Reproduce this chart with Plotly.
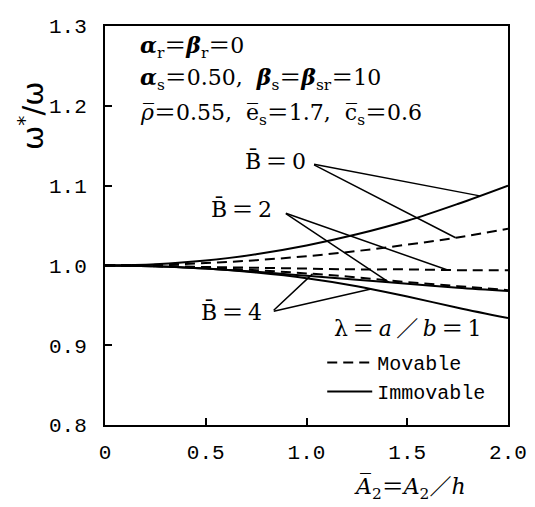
import numpy as np
import plotly.graph_objects as go

# ---- data ----
a2 = [0.0, 0.25, 0.5, 0.75, 1.0, 1.25, 1.5, 1.75, 2.0]
imm_B0 = [1.0, 1.0015, 1.006, 1.014, 1.025, 1.039, 1.056, 1.077, 1.100]
mov_B0 = [1.0, 1.0007, 1.003, 1.0065, 1.0115, 1.018, 1.026, 1.035, 1.046]
mov_B2 = [1.0, 0.9995, 0.998, 0.997, 0.996, 0.995, 0.995, 0.994, 0.994]
imm_B2 = [1.0, 0.999, 0.996, 0.992, 0.987, 0.982, 0.977, 0.972, 0.968]
mov_B4 = [1.0, 0.999, 0.997, 0.994, 0.990, 0.985, 0.979, 0.974, 0.969]
imm_B4 = [1.0, 0.999, 0.996, 0.991, 0.984, 0.974, 0.961, 0.947, 0.934]

x_ticks = [0, 0.5, 1.0, 1.5, 2.0]
x_ticktext = ["0", "0.5", "1.0", "1.5", "2.0"]
y_ticks = [0.8, 0.9, 1.0, 1.1, 1.2, 1.3]
y_ticktext = ["0.8", "0.9", "1.0", "1.1", "1.2", "1.3"]

T = "\u2009"      # thin space
EQ = "\uff1d"     # full-width equals
SL = "\uff0f"     # full-width slash

# label text, label centre (data), leader start (data), [(curve, x on curve)]
labels = [
    ("B\u0304" + T + EQ + T + "0", 0.844, 1.131, (1.03, 1.127), [(imm_B0, 1.86), (mov_B0, 1.74)]),
    ("B\u0304" + T + EQ + T + "2", 0.678, 1.071, (0.89, 1.066), [(mov_B2, 1.70), (imm_B2, 1.41)]),
    ("B\u0304" + T + EQ + T + "4", 0.629, 0.941, (0.83, 0.942), [(mov_B4, 1.03), (imm_B4, 1.32)]),
]

# page geometry (the page body offsets the figure by 8px)
OFF = 8
PL, PR, PT, PB = 105, 515, 16, 425   # plot area in page pixels
W, H = 535 - OFF, 507 - OFF


def px(x):
    return (x - PL) / (PR - PL)


def py(y):
    return (PB - y) / (PB - PT)


fig = go.Figure()
DASH = "10px,6px"
LW = 2
series = [
    (mov_B0, DASH, False, "Movable"),
    (mov_B2, DASH, False, "Movable"),
    (mov_B4, DASH, True, "Movable"),
    (imm_B0, "solid", False, "Immovable"),
    (imm_B2, "solid", False, "Immovable"),
    (imm_B4, "solid", True, "Immovable"),
]
for ys, dash, show, name in series:
    fig.add_trace(go.Scatter(
        x=a2, y=ys, mode="lines", name=name, showlegend=show,
        legendgroup=name,
        line=dict(color="black", width=LW, dash=dash, shape="spline"),
    ))

serif = "DejaVu Serif, Noto Sans CJK JP, serif"
mono = "Liberation Mono, monospace"

annotations = []
for text, tx, ty, (sx, sy), targets in labels:
    annotations.append(dict(x=tx, y=ty, xref="x", yref="y", text=text,
                            xanchor="center", yanchor="middle",
                            showarrow=False, font=dict(family=serif, size=22, color="black")))
    for ys, xt in targets:
        yt = float(np.interp(xt, a2, ys))
        annotations.append(dict(x=xt, y=yt, xref="x", yref="y", ax=sx, ay=sy,
                                axref="x", ayref="y", text="", showarrow=True,
                                arrowhead=0, arrowwidth=1.5, arrowcolor="black",
                                standoff=0, startstandoff=0))

al = "<b><i>\u03b1</i></b>"
be = "<b><i>\u03b2</i></b>"
params = [
    (al + "<sub>r</sub>" + EQ + be + "<sub>r</sub>" + EQ + "0", 38),
    (al + "<sub>s</sub>" + EQ + "0.50,  " + be + "<sub>s</sub>" + EQ + be + "<sub>sr</sub>" + EQ + "10", 70),
    ("<i>\u03c1\u0305</i>" + EQ + "0.55,  e\u0305<sub>s</sub>" + EQ + "1.7,  c\u0305<sub>s</sub>" + EQ + "0.6", 107),
]
for t, ypg in params:
    annotations.append(dict(x=px(139), y=py(ypg), xref="paper", yref="paper", text=t,
                            xanchor="left", yanchor="middle", showarrow=False,
                            font=dict(family=serif, size=22, color="black")))

annotations.append(dict(x=1.505, y=0.921, xref="x", yref="y",
                        text="\u03bb" + T + EQ + T + "<i>a</i>" + T + SL + T + "<i>b</i>" + T + EQ + T + "1",
                        xanchor="center", yanchor="middle", showarrow=False,
                        font=dict(family=serif, size=22, color="black")))

# axis titles
annotations.append(dict(x=px(415), y=py(490), xref="paper", yref="paper",
                        text="<i>A\u0305</i><sub>2</sub>" + EQ + "<i>A</i><sub>2</sub>" + SL + "<i>h</i>",
                        xanchor="center", yanchor="middle",
                        showarrow=False, font=dict(family=serif, size=22, color="black")))
annotations.append(dict(x=px(29), y=py(108), xref="paper", yref="paper",
                        text="\u03c9<sup>*</sup>/\u03c9", textangle=-90,
                        xanchor="center", yanchor="middle",
                        showarrow=False, font=dict(family="DejaVu Sans", size=29, color="black")))

fig.update_layout(
    width=W, height=H,
    margin=dict(l=PL - OFF, r=W - (PR - OFF), t=PT - OFF, b=H - (PB - OFF)),
    paper_bgcolor="white", plot_bgcolor="white",
    annotations=annotations,
    showlegend=True,
    legend=dict(x=px(326), y=py(341), xanchor="left", yanchor="top",
                bgcolor="rgba(0,0,0,0)", font=dict(family=mono, size=20, color="black"),
                tracegroupgap=0, traceorder="grouped", itemwidth=45),
    xaxis=dict(range=[0, 2.0], tickvals=x_ticks, ticktext=x_ticktext,
               ticks="inside", ticklen=7, tickwidth=1.5, tickcolor="black",
               showline=True, linecolor="black", linewidth=2, mirror=True,
               showgrid=False, zeroline=False, ticklabelstandoff=7,
               tickfont=dict(family=mono, size=21, color="black")),
    yaxis=dict(range=[0.8, 1.3], tickvals=y_ticks, ticktext=y_ticktext,
               ticks="inside", ticklen=7, tickwidth=1.5, tickcolor="black",
               showline=True, linecolor="black", linewidth=2, mirror=True,
               showgrid=False, zeroline=False, ticklabelstandoff=12,
               tickfont=dict(family=mono, size=21, color="black")),
)

fig.write_html("out.html")
